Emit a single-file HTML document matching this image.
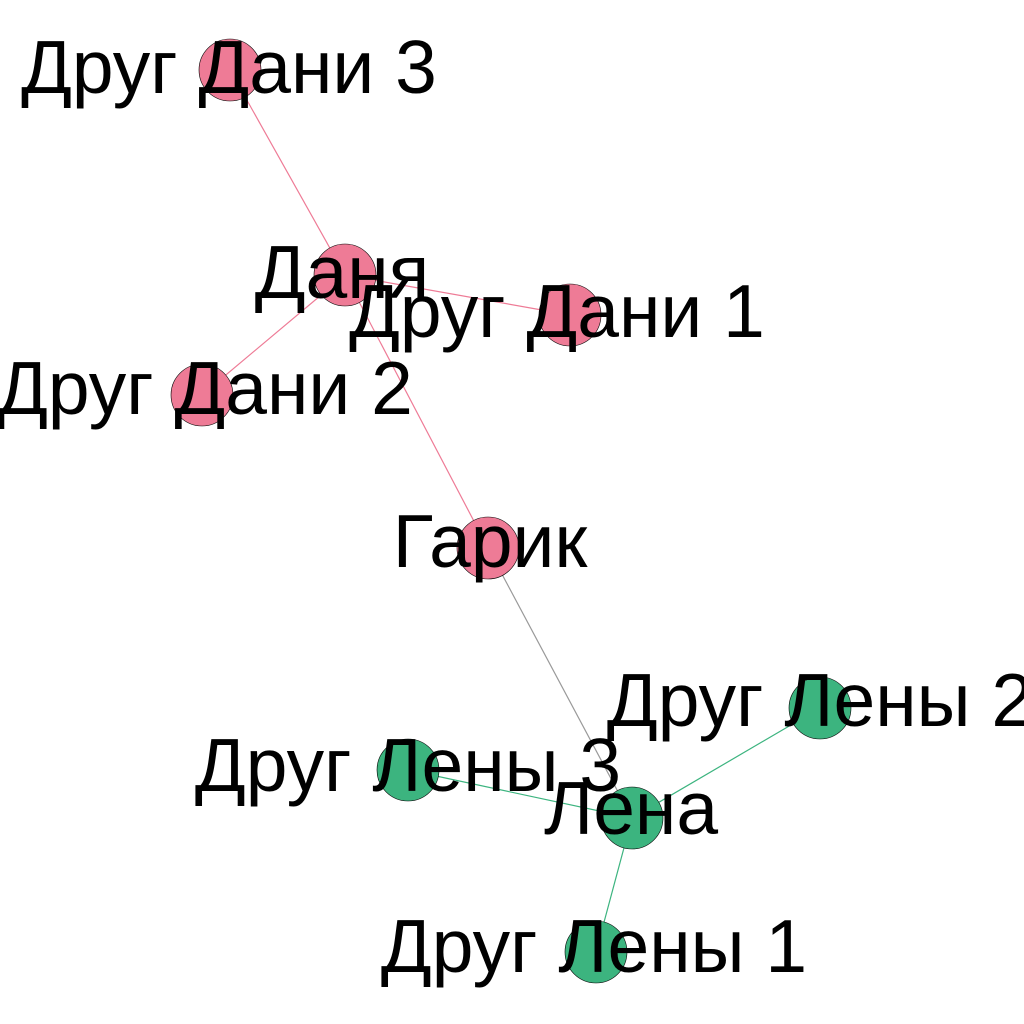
<!DOCTYPE html>
<html><head><meta charset="utf-8"><style>html,body{margin:0;padding:0;background:#fff}svg{display:block}</style></head>
<body>
<svg width="1024" height="1024" viewBox="0 0 1024 1024" xmlns="http://www.w3.org/2000/svg">
<g stroke-width="1.2">
<line x1="230" y1="70" x2="345" y2="275" stroke="#EE7B96"/>
<line x1="345" y1="275" x2="570" y2="315" stroke="#EE7B96"/>
<line x1="345" y1="275" x2="202" y2="395" stroke="#EE7B96"/>
<line x1="345" y1="275" x2="488" y2="548" stroke="#EE7B96"/>
<line x1="488" y1="548" x2="632" y2="818" stroke="#999"/>
<line x1="632" y1="818" x2="820" y2="708" stroke="#3CB47F"/>
<line x1="632" y1="818" x2="408" y2="770" stroke="#3CB47F"/>
<line x1="632" y1="818" x2="596" y2="952" stroke="#3CB47F"/>
</g>
<g stroke="#000" stroke-width="0.6">
<circle cx="230" cy="70" r="31" fill="#EE7B96"/>
<circle cx="345" cy="275" r="31" fill="#EE7B96"/>
<circle cx="570" cy="315" r="31" fill="#EE7B96"/>
<circle cx="202" cy="395" r="31" fill="#EE7B96"/>
<circle cx="488" cy="548" r="31" fill="#EE7B96"/>
<circle cx="632" cy="818" r="31" fill="#3CB47F"/>
<circle cx="820" cy="708" r="31" fill="#3CB47F"/>
<circle cx="408" cy="770" r="31" fill="#3CB47F"/>
<circle cx="596" cy="952" r="31" fill="#3CB47F"/>
</g>
<g font-family="Liberation Sans, sans-serif" font-size="75" text-anchor="middle" fill="#000">
<text x="229" y="93">Друг Дани 3</text>
<text x="342" y="298">Даня</text>
<text x="557" y="337">Друг Дани 1</text>
<text x="205" y="414">Друг Дани 2</text>
<text x="490" y="567">Гарик</text>
<text x="631" y="834">Лена</text>
<text x="820" y="726">Друг Лены 2</text>
<text x="408" y="791">Друг Лены 3</text>
<text x="594" y="972">Друг Лены 1</text>
</g>
</svg>
</body></html>
